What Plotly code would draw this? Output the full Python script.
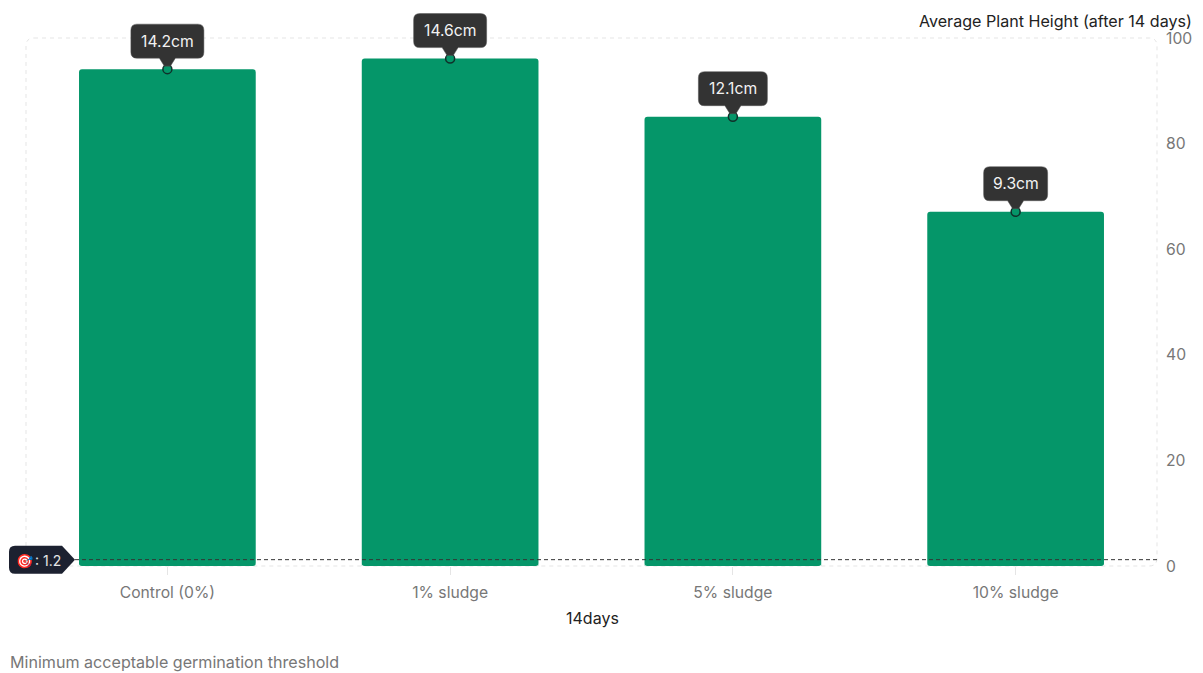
import plotly.graph_objects as go

categories = ["Control (0%)", "1% sludge", "5% sludge", "10% sludge"]
bar_values = [94.1, 96.1, 85.1, 67.1]
labels = ["14.2cm", "14.6cm", "12.1cm", "9.3cm"]
threshold = 1.2
y_ticks = [0, 20, 40, 60, 80, 100]

W, H = 1203, 673
L, R, T, B = 26, 46, 38, 107
PW, PH = W - L - R, H - T - B
YMAX = 100
TEXT = "#222222"
MUTED = "#777777"
FRAME = "#e5e5e5"
BOX = "#333333"
FS = 15.7


def px(x):
    return (x - L) / PW


def py(y):
    return 1 - (y - T) / PH


def note(x, y, text, size=FS, color=TEXT, xanchor="center"):
    fig.add_annotation(xref="paper", yref="paper", x=px(x), y=py(y), text=text, showarrow=False,
                       xanchor=xanchor, yanchor="middle", font=dict(family="Inter", size=size, color=color))


def half_width(text):
    if len(text) == 5:
        return 32
    return 34.5 if text.startswith("12.1") else 36.5


fig = go.Figure()
fig.add_trace(go.Bar(
    x=categories, y=bar_values, width=0.625,
    marker=dict(color="#059669", cornerradius=3, line=dict(width=0)),
    hoverinfo="skip", showlegend=False,
))

# rounded dashed frame
fig.add_shape(type="path", xref="paper", yref="paper", layer="below",
              path=f"M{px(34)},{py(38)} L{px(1149)},{py(38)} Q{px(1157)},{py(38)} {px(1157)},{py(46)} "
                   f"L{px(1157)},{py(558)} Q{px(1157)},{py(566)} {px(1149)},{py(566)} "
                   f"L{px(34)},{py(566)} Q{px(26)},{py(566)} {px(26)},{py(558)} "
                   f"L{px(26)},{py(46)} Q{px(26)},{py(38)} {px(34)},{py(38)} Z",
              line=dict(color=FRAME, width=1, dash="4px,4px"))

for i, (c, v, t) in enumerate(zip(categories, bar_values, labels)):
    hw = half_width(t)
    fx = (i + 0.5) / len(categories)
    # rounded bottom corners of the bar
    for sgn in (-1, 1):
        e = sgn * 88.5
        n = sgn * 85.5
        fig.add_shape(type="path", xref="paper", yref="paper", xsizemode="pixel", ysizemode="pixel",
                      xanchor=fx, yanchor=0, path=f"M{e},0 L{n},0 Q{e},0 {e},3 Z",
                      fillcolor="white", line=dict(width=0), layer="above")
    # callout box with pointer
    fig.add_shape(
        type="path", xref="paper", yref="paper", xsizemode="pixel", ysizemode="pixel",
        xanchor=fx, yanchor=v / YMAX,
        path=(f"M{-hw + 6},45 L{hw - 6},45 Q{hw},45 {hw},39 L{hw},17 Q{hw},11 {hw - 6},11 "
              f"L8,11 L3,3 L-3,3 L-8,11 L{-hw + 6},11 Q{-hw},11 {-hw},17 L{-hw},39 Q{-hw},45 {-hw + 6},45 Z"),
        fillcolor=BOX, line=dict(color="#555555", width=0.5), layer="above",
    )
    fig.add_annotation(
        x=c, y=v, yref="y", text=t, showarrow=False, yshift=28, yanchor="middle", xanchor="center",
        font=dict(family="Inter", size=FS, color="#f2f2f2"),
    )

# threshold line
fig.add_shape(type="line", xref="paper", yref="y", x0=px(75), x1=1, y0=threshold, y1=threshold,
              line=dict(color=BOX, width=1, dash="4px,3px"), layer="above")

# threshold badge
fig.add_shape(type="path", xref="paper", yref="paper", ysizemode="pixel", yanchor=threshold / YMAX, layer="above",
              path=f"M{px(15)},14 L{px(62)},14 L{px(75)},0 L{px(62)},-14 L{px(15)},-14 "
                   f"Q{px(9)},-14 {px(9)},-8 L{px(9)},8 Q{px(9)},14 {px(15)},14 Z",
              fillcolor="#1c2130", line=dict(width=0))

fig.add_trace(go.Scatter(
    x=categories, y=bar_values, mode="markers", showlegend=False,
    marker=dict(color="#059669", size=9, line=dict(color="#10302a", width=1.5)),
    hoverinfo="skip", cliponaxis=False,
))

note(25, 560, "🎯", size=14, color="#e5e5e5")
note(33, 560, f": {threshold}", size=14, color="#e5e5e5", xanchor="left")
note(1194, 21, "Average Plant Height (after 14 days)", size=16.1, xanchor="right")
note(592, 618, "14days", size=16)
note(8, 662, "Minimum acceptable germination threshold", size=16.1, color=MUTED, xanchor="left")

fig.update_layout(
    width=W, height=H, margin=dict(l=L, r=R, t=T, b=B, autoexpand=False),
    paper_bgcolor="white", plot_bgcolor="white", bargap=0.375,
    font=dict(family="Inter"),
)
fig.update_xaxes(
    type="category", categoryorder="array", categoryarray=categories,
    range=[-0.5, 3.5], showgrid=False, zeroline=False, showline=False,
    ticks="outside", ticklen=8, tickcolor=FRAME, ticklabelstandoff=4,
    tickfont=dict(family="Inter", size=FS, color=MUTED),
)
fig.update_yaxes(
    side="right", range=[0, YMAX], tickvals=y_ticks, showgrid=False, zeroline=False,
    showline=False, ticks="", ticklabelstandoff=8,
    tickfont=dict(family="Inter", size=FS, color=MUTED),
)
fig.write_html("out.html", post_script="document.body.style.margin='0';",
               config={"displayModeBar": False})
